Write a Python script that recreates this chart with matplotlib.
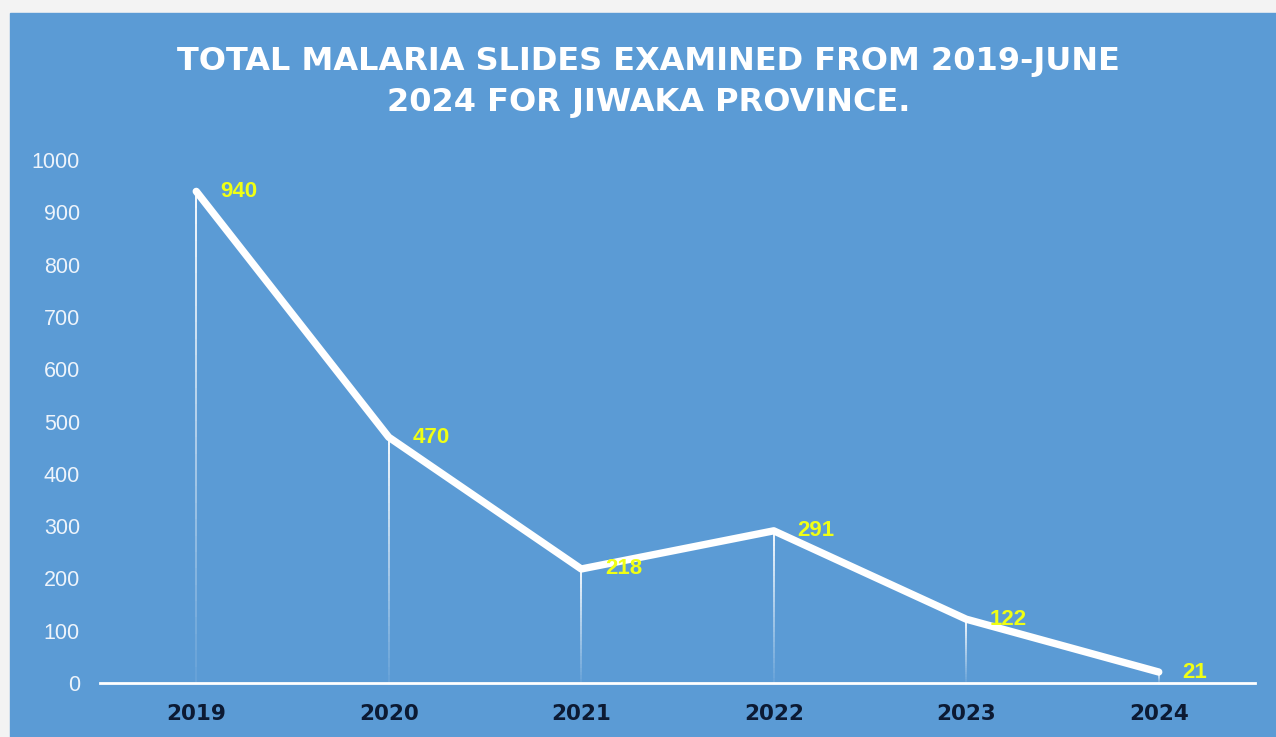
import matplotlib
matplotlib.use("agg")
import matplotlib.pyplot as plt
import numpy as np
from matplotlib.collections import LineCollection
from matplotlib.patches import Rectangle

years = ["2019", "2020", "2021", "2022", "2023", "2024"]
slides = [940, 470, 218, 291, 122, 21]
y_ticks = [0, 100, 200, 300, 400, 500, 600, 700, 800, 900, 1000]

title = "TOTAL MALARIA SLIDES EXAMINED FROM 2019-JUNE\n2024 FOR JIWAKA PROVINCE."

BLUE = "#5b9bd5"
YELLOW = "#f0ff14"
NAVY = "#0c1a33"

fig = plt.figure(figsize=(12.76, 7.37), dpi=100, facecolor="#f3f3f3")
# blue chart panel behind everything
panel = Rectangle((10 / 1276, 0), 1, 1 - 13 / 737,
                  transform=fig.transFigure, color=BLUE, zorder=-10)
fig.add_artist(panel)

ax = fig.add_axes([100 / 1276, 54 / 737, 1155 / 1276, 523 / 737])
ax.set_facecolor("none")
x = np.arange(len(years))

# drop lines fading towards the axis
segs, cols = [], []
n = 30
for xi, yi in zip(x, slides):
    edges = np.linspace(yi, 0, n + 1)
    for k in range(n):
        segs.append([(xi, edges[k]), (xi, edges[k + 1])])
        cols.append((1, 1, 1, 0.9 * (1 - k / n) + 0.05))
ax.add_collection(LineCollection(segs, colors=cols, linewidths=1.4, zorder=2))

ax.plot(x, slides, color="white", lw=5.3, solid_capstyle="round",
        solid_joinstyle="round", zorder=3)

for xi, yi in zip(x, slides):
    ax.annotate(str(yi), (xi, yi), xytext=(17, 0), textcoords="offset points",
                color=YELLOW, fontsize=16, fontweight="bold",
                family="Liberation Sans", ha="left", va="center", zorder=4)

ax.set_xlim(-0.5, len(years) - 0.5)
ax.set_ylim(0, 1000)
ax.set_xticks(x)
ax.set_xticklabels(years, fontsize=15.5, fontweight="bold", color=NAVY,
                   family="DejaVu Sans")
ax.set_yticks(y_ticks)
ax.set_yticklabels([str(v) for v in y_ticks], fontsize=15.5, color="#eef4fb",
                   family="Liberation Sans")
ax.tick_params(axis="both", length=0)
ax.tick_params(axis="x", pad=15)
ax.tick_params(axis="y", pad=14.5)
for side in ["top", "right", "left"]:
    ax.spines[side].set_visible(False)
ax.spines["bottom"].set_color("white")
ax.spines["bottom"].set_linewidth(2)

fig.text(0.508, 1 - 82 / 737, title, ha="center", va="center", color="white",
         fontsize=23, fontweight="bold", family="DejaVu Sans",
         linespacing=1.45)

fig.savefig("out.png", dpi=100, facecolor=fig.get_facecolor())
